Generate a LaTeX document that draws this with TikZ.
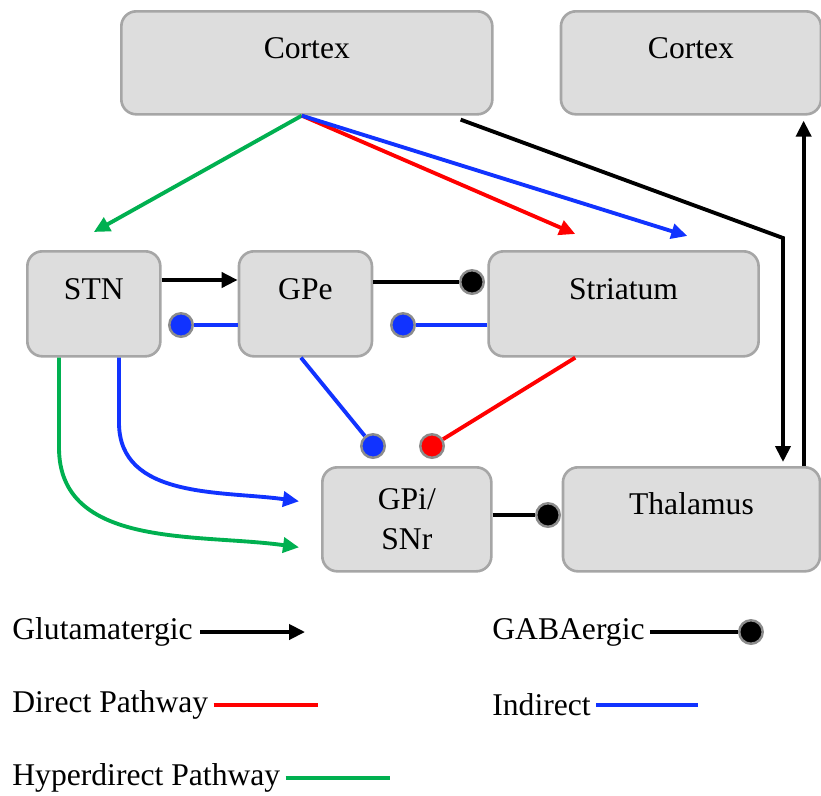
\documentclass[tikz,border=0pt]{standalone}
\usepackage{fontspec}
\setmainfont{Liberation Serif}
\usepackage{tikz}
\usetikzlibrary{arrows.meta, positioning, calc}
\definecolor{bfill}{HTML}{DDDDDD}
\definecolor{bline}{HTML}{A6A6A6}
\definecolor{brim}{HTML}{8C8C8C}
\definecolor{pgreen}{HTML}{00B050}
\definecolor{pred}{HTML}{FF0000}
\definecolor{pblue}{HTML}{1133FF}
\tikzset{
  region/.style={rectangle, rounded corners=0.3cm, draw=bline, fill=bfill, line width=1.5pt,
                 text=black, align=center, font=\fontsize{18}{23}\selectfont},
  toptext/.style={text height=0.5cm, text depth=0.68cm},
  dot/.style={circle, draw=brim, line width=1.4pt, minimum size=0.47cm, inner sep=0pt},
  glu/.style={-{Triangle[length=3.2mm, width=3mm]}, line width=2.2pt},
  wire/.style={line width=2.2pt},
  key/.style={anchor=west, inner sep=0pt, font=\fontsize{18}{23}\selectfont}
}
\begin{document}
\begin{tikzpicture}
  \useasboundingbox (0,0) rectangle (16.42,-15.9);
  \node[region, toptext, minimum width=7.42cm, minimum height=2.06cm, anchor=north west] (ctx) at (2.4,-0.2) {Cortex};
  \node[region, toptext, minimum width=5.2cm, minimum height=2.06cm, right=1.32cm of ctx] (ctxout) {Cortex};
  \node[region, toptext, minimum width=2.66cm, minimum height=2.1cm, anchor=north west] (stn) at (0.52,-5.0) {STN};
  \node[region, toptext, minimum width=2.66cm, minimum height=2.1cm, right=1.52cm of stn] (gpe) {GPe};
  \node[region, toptext, minimum width=5.4cm, minimum height=2.1cm, right=2.28cm of gpe] (str) {Striatum};
  \node[region, minimum width=3.38cm, minimum height=2.08cm, anchor=north west] (gpi) at (6.42,-9.32) {GPi/\\SNr};
  \node[region, toptext, minimum width=5.14cm, minimum height=2.08cm, right=1.38cm of gpi] (thal) {Thalamus};

  \node[dot, fill=black] (dgs) at (9.44,-5.64) {};
  \node[dot, fill=pblue] (dgst) at (3.62,-6.5) {};
  \node[dot, fill=pblue] (dsg) at (8.06,-6.5) {};
  \node[dot, fill=pblue] (dgg) at (7.46,-8.92) {};
  \node[dot, fill=pred] (dsi) at (8.64,-8.92) {};
  \node[dot, fill=black] (dit) at (10.96,-10.3) {};
  \coordinate (kink) at (15.66,-4.76);
  \coordinate (rise) at ([xshift=4.84cm]thal.north west);

  \draw[glu, pgreen] ([xshift=-0.1cm]ctx.south) -- ([yshift=0.36cm]stn.north);
  \draw[glu, pred] ([xshift=-0.1cm]ctx.south) -- ([xshift=1.76cm, yshift=0.32cm]str.north west);
  \draw[glu, pblue] ([xshift=-0.1cm]ctx.south) -- ([xshift=4.0cm, yshift=0.28cm]str.north west);
  \draw[glu, shorten >=0.08cm] ([xshift=-0.66cm, yshift=-0.08cm]ctx.south east) -- (kink) -- (kink |- thal.north);
  \draw[glu, shorten >=0.1cm] (rise) -- (rise |- ctxout.south);
  \draw[glu] ([yshift=-0.6cm]stn.north east) -- ([yshift=-0.6cm]gpe.north west);
  \draw[wire] (gpe.east |- dgs) -- (dgs);
  \draw[wire, pblue] (gpe.west |- dgst) -- (dgst);
  \draw[wire, pblue] (str.west |- dsg) -- (dsg);
  \draw[wire, pblue] ([xshift=-0.09cm]gpe.south) -- (dgg);
  \draw[wire, pred] ([xshift=1.76cm]str.south west) -- (dsi);
  \draw[wire] (gpi.east |- dit) -- (dit);
  \draw[glu, pblue] ([xshift=1.86cm]stn.south west) -- ++(0,-1.3) to[out=-90, in=172] ([xshift=-0.44cm, yshift=0.36cm]gpi.west);
  \draw[glu, pgreen] ([xshift=0.66cm]stn.south west) -- ++(0,-1.8) to[out=-90, in=172] ([xshift=-0.44cm, yshift=-0.56cm]gpi.west);

  \node[key] (kglu) at (0.24,-12.64) {Glutamatergic};
  \draw[glu] ([xshift=0.14cm]kglu.east) -- ++(2.1,0);
  \node[key] (kgaba) at (9.84,-12.64) {GABAergic};
  \node[dot, fill=black, right=1.86cm of kgaba] (kdot) {};
  \draw[wire] ([xshift=0.1cm]kgaba.east) -- (kdot);
  \node[key] (kdir) at (0.24,-14.1) {Direct Pathway};
  \draw[wire, pred] ([xshift=0.1cm]kdir.east) -- ++(2.08,0);
  \node[key] (kind) at (9.84,-14.1) {Indirect};
  \draw[wire, pblue] ([xshift=0.1cm]kind.east) -- ++(2.04,0);
  \node[key] (khyp) at (0.24,-15.56) {Hyperdirect Pathway};
  \draw[wire, pgreen] ([xshift=0.1cm]khyp.east) -- ++(2.08,0);
\end{tikzpicture}
\end{document}
